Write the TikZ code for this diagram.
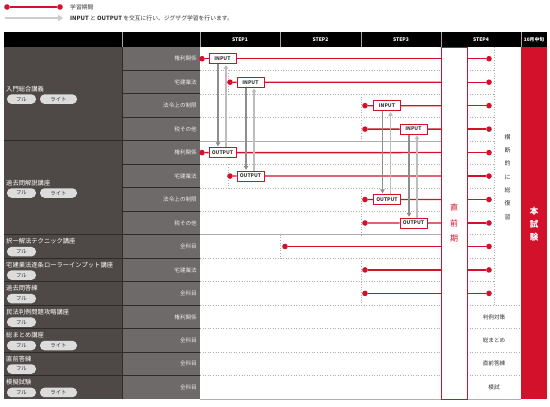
\documentclass[tikz,border=0pt]{standalone}
\usepackage{fontspec}
\setmainfont{Noto Sans CJK JP}
\usetikzlibrary{arrows.meta}
\definecolor{accent}{HTML}{D2112B}
\definecolor{colone}{HTML}{4E4946}
\definecolor{coltwo}{HTML}{6D6A69}
\definecolor{pillgray}{HTML}{DCDCDC}
\definecolor{textdark}{HTML}{333333}
\definecolor{gridgray}{HTML}{AFAFAF}
\definecolor{darksep}{HTML}{2E2C2B}
\definecolor{downgray}{HTML}{8E8E8E}
\definecolor{upgray}{HTML}{BDBDBD}
\begin{document}
\begin{tikzpicture}[x=1pt,y=-1pt,
  seclbl/.style={anchor=west, inner sep=0, text=white, font=\fontsize{6.3}{7}\selectfont},
  sublbl/.style={anchor=east, inner sep=0, text=white!92!black, font=\fontsize{5.6}{6}\selectfont},
  pill/.style={fill=pillgray, rounded corners=4.5pt, minimum height=9.5pt, inner sep=0, text=textdark, font=\fontsize{5.4}{6}\selectfont},
  iobox/.style={draw=accent, line width=0.8pt, fill=white, minimum width=27pt, minimum height=10pt, inner sep=0, text=textdark, font=\bfseries\fontsize{5}{6}\selectfont},
  hdr/.style={inner sep=0, text=white, font=\bfseries\fontsize{5}{6}\selectfont},
  bar/.style={draw=accent, line width=1.3pt},
  dot/.style={circle, fill=accent, minimum size=5.6pt, inner sep=0},
  zigdown/.style={draw=downgray, line width=1.3pt, -{Triangle[length=4pt,width=4.5pt]}, shorten >=0.8pt},
  zigup/.style={draw=upgray, line width=1.3pt, -{Triangle[length=4pt,width=4.5pt]}, shorten >=0.8pt},
  grid/.style={draw=gridgray, line width=0.6pt, dotted},
  gridsolid/.style={draw=gridgray, line width=0.6pt},
  sep/.style={draw=darksep, line width=0.9pt},
  legtext/.style={anchor=west, inner sep=0, text=textdark, font=\fontsize{5.8}{7}\selectfont},
  steptext/.style={inner sep=0, text=textdark, font=\fontsize{5.6}{6}\selectfont},
]
\fill[white] (0,0) rectangle (550,407);
\useasboundingbox (0,0) rectangle (550,407);

% legend
\node[dot] (lg1) at (7,7) {};
\node[dot] (lg2) at (60,7) {};
\draw[bar] (lg1) -- (lg2);
\node[legtext] (lgt1) at (70,7) {学習期間};
\coordinate (la1) at (5,18);
\coordinate (la2) at (63,18);
\draw[draw=gray!40, line width=2pt, -{Triangle[length=5pt,width=6.5pt]}] (la1) -- (la2);
\node[legtext] (lgt2) at (70,18) {\textbf{INPUT} と \textbf{OUTPUT} を交互に行い、ジグザグ学習を行います。};

% header
\fill[black] (4,32) rectangle (547,47);
\foreach \x in {122,200,280,361,441,521} \draw[gray!70, line width=0.5pt] (\x,32) -- (\x,47);
\node[hdr] (h1) at (240,39.5) {STEP1};
\node[hdr] (h2) at (320.5,39.5) {STEP2};
\node[hdr] (h3) at (401,39.5) {STEP3};
\node[hdr] (h4) at (481,39.5) {STEP4};
\node[hdr, font=\bfseries\fontsize{4.8}{6}\selectfont] (h5) at (534,39.5) {10月中旬};

% left columns
\fill[colone] (4,47) rectangle (122,399);
\fill[coltwo] (122,47) rectangle (200,399);
\foreach \i in {1,...,14} {
  \pgfmathsetmacro\ry{47+23.467*\i}
  \draw[sep] (122,\ry) -- (200,\ry);
}
\foreach \i in {4,8,9,10,11,12,13,14} {
  \pgfmathsetmacro\ry{47+23.467*\i}
  \draw[sep] (4,\ry) -- (122,\ry);
}
\draw[sep] (122,47) -- (122,399);

% grid in white area
\foreach \i in {1,2,3,5,6,7,9,10,11,12,13,14} {
  \pgfmathsetmacro\ry{47+23.467*\i}
  \draw[grid] (200,\ry) -- (441,\ry);
}
\foreach \i in {4,8} {
  \pgfmathsetmacro\ry{47+23.467*\i}
  \draw[gridsolid] (200,\ry) -- (441,\ry);
  \draw[grid] (467,\ry) -- (494,\ry);
}
\foreach \i in {1,2,3,5,6,7,9,10} {
  \pgfmathsetmacro\ry{47+23.467*\i}
  \draw[grid] (467,\ry) -- (494,\ry);
}
\foreach \i in {11,12,13,14} {
  \pgfmathsetmacro\ry{47+23.467*\i}
  \draw[grid] (467,\ry) -- (521,\ry);
}
\draw[gridsolid] (200,399) -- (521,399);
\draw[grid] (494,47) -- (494,305.13);
\draw[grid] (228,70.47) -- (228,93.93);
\draw[grid] (228,164.33) -- (228,187.8);
\draw[grid] (361,93.93) -- (361,140.87);
\draw[grid] (361,187.8) -- (361,234.73);
\draw[grid] (361,258.2) -- (361,305.13);
\draw[grid] (280,234.73) -- (280,258.2);

% red exam column and final-period box
\fill[accent] (521,47) rectangle (547,399);
\draw[draw=accent, line width=0.7pt, fill=white] (441,47) rectangle (467,399);

% section labels
\foreach \name/\a/\b/\two in {入門総合講義/0/3/1, 過去問解説講座/4/7/1, 択一解法テクニック講座/8/8/0, 宅建業法逐条ローラーインプット講座/9/9/0, 過去問答練/10/10/0, 民法判例問題攻略講座/11/11/0, 総まとめ講座/12/12/1, 直前答練/13/13/0, 模擬試験/14/14/1} {
  \pgfmathsetmacro\cc{47+23.467*(\a+\b+1)/2}
  \node[seclbl] (sec\a) at (6,\cc-5) {\name};
  \node[pill, minimum width=29pt] (pf\a) at (21.5,\cc+5.2) {フル};
  \ifnum\two=1
    \node[pill, minimum width=37pt] (pl\a) at (58.5,\cc+5.2) {ライト};
  \fi
}

% subject labels
\foreach \i/\t in {0/権利関係,1/宅建業法,2/法令上の制限,3/税その他,4/権利関係,5/宅建業法,6/法令上の制限,7/税その他,8/全科目,9/宅建業法,10/全科目,11/権利関係,12/全科目,13/全科目,14/全科目} {
  \node[sublbl] (sub\i) at (197,58.73+23.467*\i) {\t};
}

% bars: dots and coordinates
\foreach \i/\sx in {0/202,1/230,2/365,3/365,4/202,5/230,6/365,7/365,8/285,9/365,10/365} {
  \pgfmathsetmacro\cy{58.73+23.467*\i}
  \node[dot] (d\i) at (\sx,\cy) {};
  \coordinate (e\i) at (441,\cy);
  \coordinate (s\i) at (467,\cy);
  \node[dot] (f\i) at (489,\cy) {};
}
\node[iobox] (b0) at (222.5,58.73) {INPUT};
\node[iobox] (b1) at (250.5,82.2) {INPUT};
\node[iobox] (b2) at (387,105.67) {INPUT};
\node[iobox] (b3) at (413.5,129.13) {INPUT};
\node[iobox] (b4) at (222.5,152.6) {OUTPUT};
\node[iobox] (b5) at (250.5,176.07) {OUTPUT};
\node[iobox] (b6) at (387,199.53) {OUTPUT};
\node[iobox] (b7) at (413.5,223) {OUTPUT};
\foreach \i in {0,...,7} \draw[bar] (d\i) -- (b\i) -- (e\i);
\foreach \i in {8,9,10} \draw[bar] (d\i) -- (e\i);
\foreach \i in {0,...,10} \draw[bar] (s\i) -- (f\i);

% zigzag arrows
\foreach \u/\l in {0/4,1/5,2/6,3/7} {
  \draw[zigdown] ([xshift=-4.5pt]b\u.south) -- ([xshift=-4.5pt]b\l.north);
  \draw[zigup] ([xshift=3.5pt]b\l.north) -- ([xshift=3.5pt]b\u.south);
}

% STEP4 texts
\node[steptext] (t11) at (494,316.87) {判例対策};
\node[steptext] (t12) at (494,340.33) {総まとめ};
\node[steptext] (t13) at (494,363.8) {直前答練};
\node[steptext] (t14) at (494,387.27) {模試};
\node[inner sep=0, align=center, text=textdark, font=\fontsize{6}{13.3}\selectfont] (oudan) at (507.5,177) {横\\断\\的\\に\\総\\復\\習};
\node[inner sep=0, align=center, text=accent, font=\fontsize{8}{15.5}\selectfont] (chokuzen) at (454,223) {直\\前\\期};
\node[inner sep=0, align=center, text=white, font=\bfseries\fontsize{8.5}{13}\selectfont] (honshiken) at (534,224) {本\\試\\験};
\end{tikzpicture}
\end{document}
